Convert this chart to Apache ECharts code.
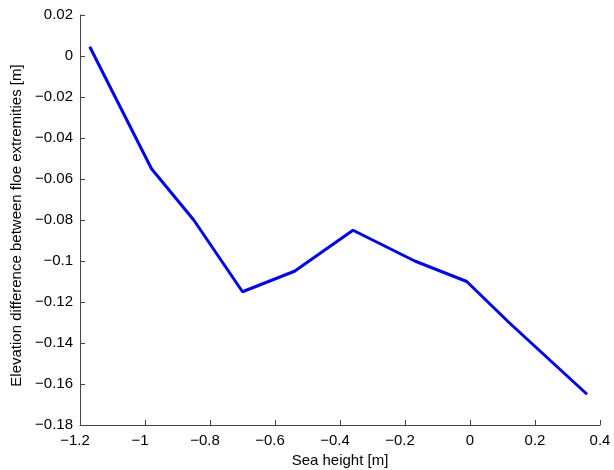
<!DOCTYPE html>
<html>
<head>
<meta charset="utf-8">
<script src="https://cdn.jsdelivr.net/npm/echarts@6/dist/echarts.min.js"></script>
<style>html,body{margin:0;padding:0;background:#fff}#c{width:614px;height:470px}</style>
</head>
<body>
<div id="c"></div>
<script>
const seaHeight = [-1.17, -0.98, -0.85, -0.70, -0.54, -0.36, -0.17, -0.01, 0.12, 0.36];
const elevDiff = [0.0045, -0.055, -0.080, -0.115, -0.105, -0.085, -0.100, -0.110, -0.130, -0.165];
const xLabel = 'Sea height [m]';
const yLabel = 'Elevation difference between floe extremities [m]';

function fmt(v) {
  const s = String(Number(v.toFixed(2)));
  return s.replace('-', '\u2212');
}
function fmtX(v) {
  const s = fmt(v);
  return v < 0 ? '{n|' + s + '}' : '{p|' + s + '}';
}
const font = 'Liberation Sans, Arial, Helvetica, sans-serif';
const chart = echarts.init(document.getElementById('c'), null, {renderer: 'canvas'});
chart.setOption({
  animation: false,
  backgroundColor: '#fff',
  grid: {left: 80, right: 14, top: 15, bottom: 45, containLabel: false, outerBoundsMode: 'none'},
  xAxis: {
    type: 'value', min: -1.2, max: 0.4, interval: 0.2,
    name: xLabel, nameLocation: 'middle', nameGap: 25,
    nameTextStyle: {color: '#000', fontSize: 15, fontFamily: font},
    axisLine: {show: true, onZero: false, lineStyle: {color: '#444', width: 1}},
    axisTick: {show: true, inside: true, length: 5, lineStyle: {color: '#444'}},
    axisLabel: {
      color: '#000', fontSize: 15, fontFamily: font, margin: 8, formatter: fmtX,
      rich: {
        n: {color: '#000', fontSize: 15, fontFamily: font, padding: [0, 10, 0, 0]},
        p: {color: '#000', fontSize: 15, fontFamily: font}
      }
    },
    splitLine: {show: false}
  },
  yAxis: {
    type: 'value', min: -0.18, max: 0.02, interval: 0.02,
    name: yLabel, nameLocation: 'middle', nameGap: 47, nameRotate: 90,
    nameTextStyle: {color: '#000', fontSize: 15, fontFamily: font, padding: [0, 11, 0, 0]},
    axisLine: {show: true, onZero: false, lineStyle: {color: '#444', width: 1}},
    axisTick: {show: true, inside: true, length: 5, lineStyle: {color: '#444'}},
    axisLabel: {color: '#000', fontSize: 15, fontFamily: font, margin: 7, formatter: fmt},
    splitLine: {show: false}
  },
  series: [{
    type: 'line',
    data: seaHeight.map((x, i) => [x, elevDiff[i]]),
    showSymbol: false,
    lineStyle: {color: '#0000ff', width: 3},
    itemStyle: {color: '#0000ff'}
  }]
});
</script>
</body>
</html>
